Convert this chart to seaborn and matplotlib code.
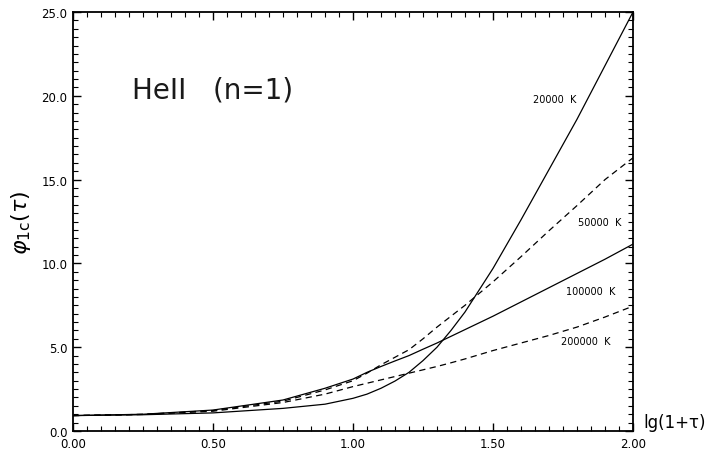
import matplotlib
matplotlib.use("Agg")
import matplotlib.pyplot as plt
import seaborn as sns
import pandas as pd
from matplotlib.ticker import MultipleLocator, FormatStrFormatter

# ---- data ----
lg_x = [0.0, 0.25, 0.5, 0.75, 0.9, 1.0, 1.05, 1.1, 1.15, 1.2, 1.25, 1.3, 1.35, 1.4,
        1.5, 1.6, 1.7, 1.8, 1.9, 2.0]
phi_20000 = [0.92, 0.97, 1.08, 1.35, 1.6, 1.95, 2.2, 2.55, 2.98, 3.5, 4.2, 5.0, 6.0, 7.1,
             9.7, 12.6, 15.6, 18.6, 21.8, 25.0]
phi_50000 = [0.92, 0.99, 1.22, 1.78, 2.45, 3.0, 3.45, 3.95, 4.4, 4.85, 5.5, 6.2, 6.85, 7.5,
             8.9, 10.4, 11.95, 13.45, 15.0, 16.3]
phi_100000 = [0.92, 1.0, 1.25, 1.85, 2.55, 3.1, 3.5, 3.85, 4.18, 4.5, 4.88, 5.25, 5.65, 6.05,
              6.85, 7.7, 8.55, 9.4, 10.25, 11.15]
phi_200000 = [0.92, 0.99, 1.18, 1.7, 2.2, 2.65, 2.85, 3.05, 3.25, 3.45, 3.65, 3.85, 4.07, 4.3,
              4.8, 5.25, 5.7, 6.2, 6.8, 7.45]
temps = ["20000  K", "50000  K", "100000  K", "200000  K"]
series = [phi_20000, phi_50000, phi_100000, phi_200000]
label_pos = [(1.72, 19.8), (1.88, 12.45), (1.85, 8.35), (1.83, 5.35)]
title_text = "HeII   (n=1)"

rows = []
for t, s in zip(temps, series):
    for xv, yv in zip(lg_x, s):
        rows.append({"x": xv, "phi": yv, "T": t})
df = pd.DataFrame(rows)

sns.set_theme(style="white")
plt.rcParams["font.family"] = ["DejaVu Sans"]

fig = plt.figure(figsize=(7.1, 4.52), dpi=100)
ax = fig.add_axes([73 / 710, 20 / 452, (633 - 73) / 710, (432 - 13) / 452])

palette = {t: "black" for t in temps}
dashes = {temps[0]: "", temps[1]: (5, 3.5), temps[2]: "", temps[3]: (5, 3.5)}
sns.lineplot(data=df, x="x", y="phi", hue="T", style="T", palette=palette,
             dashes=dashes, estimator=None, sort=False, linewidth=0.9,
             legend=False, ax=ax)

ax.set_xlim(0, 2)
ax.set_ylim(0, 25)
ax.xaxis.set_major_locator(MultipleLocator(0.5))
ax.xaxis.set_minor_locator(MultipleLocator(0.05))
ax.yaxis.set_major_locator(MultipleLocator(5))
ax.yaxis.set_minor_locator(MultipleLocator(0.5))
ax.xaxis.set_major_formatter(FormatStrFormatter("%.2f"))
ax.yaxis.set_major_formatter(FormatStrFormatter("%.1f"))
ax.tick_params(which="both", direction="in", top=True, right=True,
               bottom=True, left=True, color="black", labelsize=8.5,
               labelcolor="black")
ax.tick_params(which="major", length=6, width=1)
ax.tick_params(which="minor", length=3.5, width=0.8)
ax.tick_params(axis="x", pad=4)
ax.tick_params(axis="y", pad=4)
for sp in ax.spines.values():
    sp.set_color("black")
    sp.set_linewidth(1.3)
ax.set_xlabel("")
ax.set_ylabel(r"$\varphi_{1\mathrm{c}}(\tau)$", fontsize=16, color="black", labelpad=6)

fig.canvas.draw()
# raise the lowest y tick label slightly (as in the reference)
yticks = ax.yaxis.get_major_ticks()
if yticks:
    yticks[0].label1.set_verticalalignment("bottom")

for t, (lx, ly) in zip(temps, label_pos):
    ax.text(lx, ly, t, fontsize=7, ha="center", va="center", color="black")

ax.text(0.21, 20.4, title_text, fontsize=20, ha="left", va="center",
        color="#1a1a1a", family=["DejaVu Sans"])

fig.text(643 / 710, 1 - 423 / 452, "lg(1+τ)", fontsize=12, ha="left",
         va="center", color="black")

fig.savefig("out.png", dpi=100)
